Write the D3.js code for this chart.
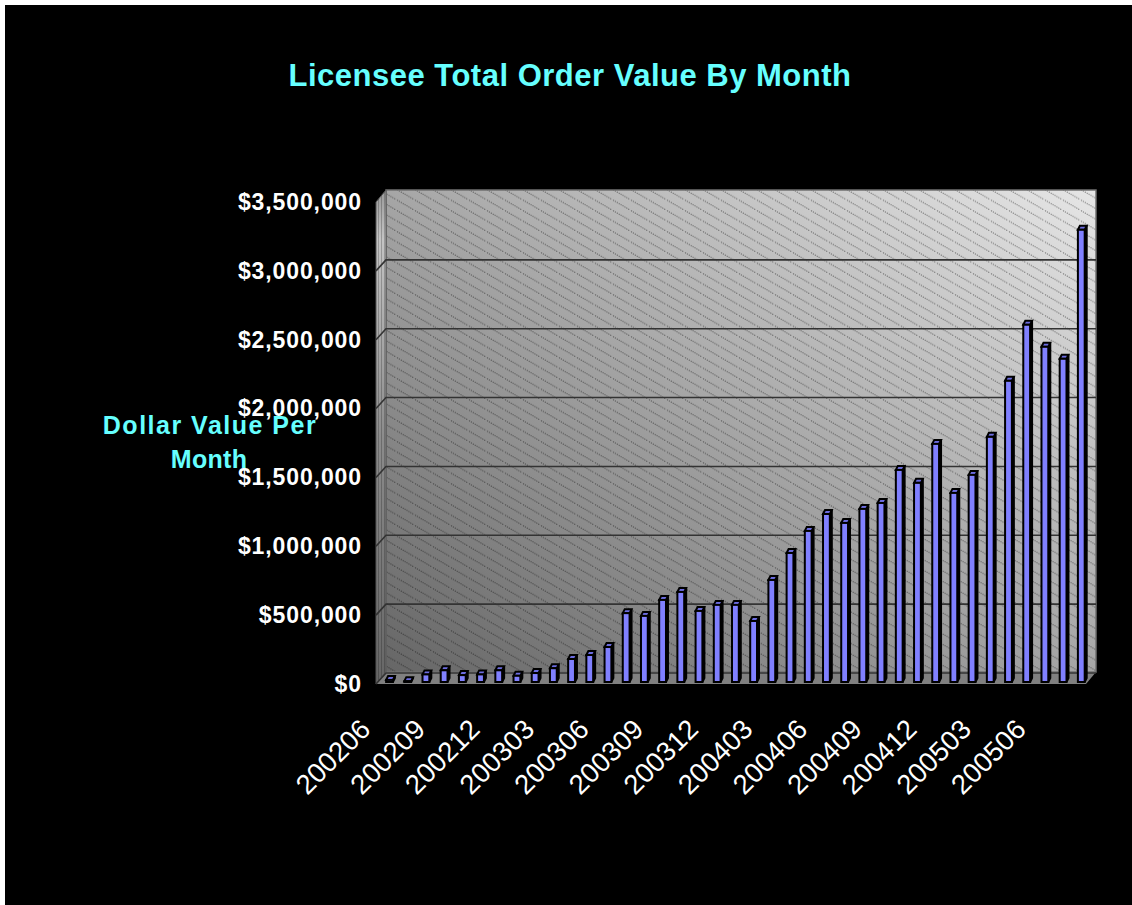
<!DOCTYPE html>
<html>
<head>
<meta charset="utf-8">
<title>Licensee Total Order Value By Month</title>
<script src="https://cdn.jsdelivr.net/npm/d3@7"></script>
<style>
    html, body { margin: 0; padding: 0; background: #fff; overflow: hidden; }
    svg { display: block; }
    text { font-family: "Liberation Sans", Arial, sans-serif; }
</style>
</head>
<body>
<div id="chart"></div>
<script>
const months = ["200206","200207","200208","200209","200210","200211","200212","200301","200302","200303",
    "200304","200305","200306","200307","200308","200309","200310","200311","200312","200401",
    "200402","200403","200404","200405","200406","200407","200408","200409","200410","200411",
    "200412","200501","200502","200503","200504","200505","200506","200507","200508"];
const orderValues = [15000,6000,55000,85000,50000,55000,85000,45000,65000,100000,
    167000,196000,254000,500000,480000,596000,654000,516000,560000,560000,
    443000,741000,937000,1097000,1220000,1155000,1257000,1300000,1540000,1446000,
    1729000,1373000,1504000,1780000,2187000,2594000,2434000,2347000,3284000];
const valueTicks = [0,500000,1000000,1500000,2000000,2500000,3000000,3500000];
const monthTicks = ["200206","200209","200212","200303","200306","200309","200312","200403","200406","200409","200412","200503","200506"];

const width = 1132, height = 905;
const plot = { left: 376, right: 1086, bottom: 684, top: 202 };
const depth = { x: 10, y: -12 };
const data = months.map((m, i) => ({ month: m, value: orderValues[i] }));

const svg = d3.select("#chart").append("svg").attr("width", width).attr("height", height);
svg.append("rect").attr("x", 5).attr("y", 5).attr("width", width - 5).attr("height", height - 5).attr("fill", "#000");

const x = d3.scaleBand().domain(months).range([plot.left, plot.right]);
const y = d3.scaleLinear().domain([0, 3500000]).range([plot.bottom, plot.top]);

const defs = svg.append("defs");
const wallGrad = defs.append("linearGradient").attr("id", "wallGrad")
    .attr("x1", 0).attr("y1", 1).attr("x2", 1).attr("y2", 0);
wallGrad.append("stop").attr("offset", "0%").attr("stop-color", "#666");
wallGrad.append("stop").attr("offset", "100%").attr("stop-color", "#e6e6e6");

const sideGrad = defs.append("linearGradient").attr("id", "sideGrad")
    .attr("x1", 0).attr("y1", 0).attr("x2", 0).attr("y2", 1);
sideGrad.append("stop").attr("offset", "0%").attr("stop-color", "#9a9a9a");
sideGrad.append("stop").attr("offset", "10%").attr("stop-color", "#c4c4c4");
sideGrad.append("stop").attr("offset", "50%").attr("stop-color", "#8c8c8c");
sideGrad.append("stop").attr("offset", "100%").attr("stop-color", "#666");

const stripes = defs.append("pattern").attr("id", "stripes").attr("patternUnits", "userSpaceOnUse")
    .attr("width", 3).attr("height", 10);
stripes.append("rect").attr("width", 1).attr("height", 10).attr("fill", "#000").attr("fill-opacity", 0.22);

const hatch = defs.append("pattern").attr("id", "hatch").attr("patternUnits", "userSpaceOnUse")
    .attr("width", 18).attr("height", 10.5);
hatch.append("path").attr("d", "M-18,-10.5L36,21")
    .attr("stroke", "#000").attr("stroke-opacity", 0.48).attr("stroke-width", 1)
    .attr("stroke-dasharray", "1.2 1").attr("fill", "none");

// walls and floor
const backL = plot.left + depth.x, backR = plot.right + depth.x;
const backT = plot.top + depth.y, backB = plot.bottom + depth.y;
svg.append("rect").attr("x", backL).attr("y", backT).attr("width", backR - backL).attr("height", backB - backT)
    .attr("fill", "url(#wallGrad)");
svg.append("rect").attr("x", backL).attr("y", backT).attr("width", backR - backL).attr("height", backB - backT)
    .attr("fill", "url(#hatch)").attr("stroke", "#707070").attr("stroke-width", 1.5);
const sidePath = `M${plot.left},${plot.top}L${backL},${backT}L${backL},${backB}L${plot.left},${plot.bottom}Z`;
svg.append("path").attr("d", sidePath).attr("fill", "url(#sideGrad)").attr("stroke", "#555").attr("stroke-width", 1);
svg.append("path").attr("d", sidePath).attr("fill", "url(#stripes)");
svg.append("path")
    .attr("d", `M${plot.left},${plot.bottom}L${backL},${backB}L${backR},${backB}L${plot.right},${plot.bottom}Z`)
    .attr("fill", "#808080");

// gridlines
const grid = svg.append("g").attr("fill", "none").attr("stroke", "#333").attr("stroke-width", 1.6);
valueTicks.forEach(t => {
    if (t === 3500000) return;
    grid.append("path")
        .attr("d", `M${plot.left},${y(t)}L${backL},${y(t) + depth.y + 1}L${backR},${y(t) + depth.y + 1}`);
});

// bars
const barW = 6.8, sideDx = 2, capDy = -4, barShiftX = 1, barShiftY = -2;
const barX = d => x(d.month) + x.bandwidth() / 2 + barShiftX;
const gBars = svg.append("g").attr("stroke", "#000").attr("stroke-width", 2).attr("stroke-linejoin", "miter");
const bars = gBars.selectAll("g").data(data).join("g");
bars.append("path")
    .attr("fill", "#000")
    .attr("d", d => {
        const l = barX(d) + barW, t = y(d.value) + barShiftY, b = y(0) + barShiftY;
        return `M${l},${t}L${l + sideDx},${t + capDy}L${l + sideDx},${b + capDy}L${l},${b}Z`;
    });
bars.append("path")
    .attr("fill", "#6c6ce0")
    .attr("d", d => {
        const l = barX(d), t = y(d.value) + barShiftY;
        return `M${l},${t}L${l + sideDx},${t + capDy}L${l + barW + sideDx},${t + capDy}L${l + barW},${t}Z`;
    });
bars.append("rect")
    .attr("fill", "#8080ff")
    .attr("x", d => barX(d))
    .attr("y", d => y(d.value) + barShiftY)
    .attr("width", barW)
    .attr("height", d => y(0) - y(d.value));

// axes
const yAxis = svg.append("g").attr("transform", `translate(${plot.left - 14},0)`)
    .call(d3.axisLeft(y).tickValues(valueTicks).tickSize(0).tickPadding(0).tickFormat(d3.format("$,")));
yAxis.select(".domain").remove();
yAxis.selectAll("text")
    .attr("fill", "#fff")
    .style("font-size", "23px").style("font-weight", "bold").style("letter-spacing", "0.9px");

const xAxis = svg.append("g").attr("transform", `translate(0,${plot.bottom})`)
    .call(d3.axisBottom(x).tickValues(monthTicks).tickSize(0).tickPadding(0));
xAxis.select(".domain").remove();
xAxis.selectAll("text")
    .attr("fill", "#fff")
    .attr("text-anchor", "end")
    .attr("dy", 0)
    .attr("transform", "translate(-13,47) rotate(-45)")
    .style("font-size", "27.5px");

// titles
svg.append("text").attr("x", 570).attr("y", 86).attr("text-anchor", "middle")
    .attr("fill", "#66ffff").style("font-size", "31px").style("font-weight", "bold").style("letter-spacing", "0.5px")
    .text("Licensee Total Order Value By Month");
const yTitle = svg.append("text").attr("text-anchor", "middle")
    .attr("fill", "#66ffff").style("font-size", "25px").style("font-weight", "bold").style("letter-spacing", "1.5px");
yTitle.append("tspan").attr("x", 210).attr("y", 434).text("Dollar Value Per");
yTitle.append("tspan").attr("x", 209).attr("y", 468).style("letter-spacing", "0.3px").text("Month");
</script>
</body>
</html>
